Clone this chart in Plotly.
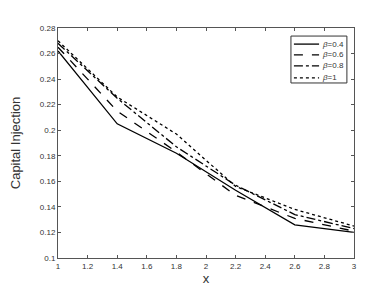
import plotly.graph_objects as go

x_vals = [1, 1.4, 1.8, 2.2, 2.6, 3]
beta_labels = ["<i>β</i>=0.4", "<i>β</i>=0.6", "<i>β</i>=0.8", "<i>β</i>=1"]
beta_04 = [0.262, 0.205, 0.182, 0.153, 0.126, 0.120]
beta_06 = [0.265, 0.215, 0.183, 0.149, 0.131, 0.121]
beta_08 = [0.268, 0.225, 0.187, 0.157, 0.134, 0.123]
beta_1 = [0.270, 0.226, 0.197, 0.156, 0.138, 0.125]

series = [beta_04, beta_06, beta_08, beta_1]
dashes = ["solid", "dash", "dashdot", "dot"]

fig = go.Figure()
for name, ys, d in zip(beta_labels, series, dashes):
    fig.add_trace(go.Scatter(x=x_vals, y=ys, mode="lines", name=name, showlegend=False,
                             line=dict(color="black", width=1.3, dash=d)))

# compact legend (MATLAB style) drawn in paper coordinates
shapes = [dict(type="rect", xref="paper", yref="paper", x0=0.787, x1=0.976, y0=0.761, y1=0.965,
               line=dict(color="#333", width=1), fillcolor="white", layer="above")]
annotations = []
entry_y = [0.930, 0.883, 0.835, 0.783]
for name, d, yy in zip(beta_labels, dashes, entry_y):
    shapes.append(dict(type="line", xref="paper", yref="paper", x0=0.797, x1=0.882, y0=yy, y1=yy,
                       line=dict(color="black", width=1.3, dash=d), layer="above"))
    annotations.append(dict(xref="paper", yref="paper", x=0.885, y=yy, text=name, showarrow=False,
                            xanchor="left", yanchor="middle", font=dict(size=8, color="#333")))

axis_common = dict(showline=True, linecolor="#555", linewidth=1, mirror="allticks",
                   ticks="inside", ticklen=3, tickcolor="#555", showgrid=False,
                   zeroline=False, tickfont=dict(size=8, color="#333"), automargin=False)
fig.update_xaxes(range=[1, 3], tickvals=[1, 1.2, 1.4, 1.6, 1.8, 2, 2.2, 2.4, 2.6, 2.8, 3],
                 ticktext=["1", "1.2", "1.4", "1.6", "1.8", "2", "2.2", "2.4", "2.6", "2.8", "3"],
                 title=dict(text="x", font=dict(size=13, color="#333"), standoff=0), **axis_common)
fig.update_yaxes(range=[0.1, 0.28], tickvals=[0.1, 0.12, 0.14, 0.16, 0.18, 0.2, 0.22, 0.24, 0.26, 0.28],
                 ticktext=["0.1", "0.12", "0.14", "0.16", "0.18", "0.2", "0.22", "0.24", "0.26", "0.28"],
                 title=dict(text="Capital Injection", font=dict(size=13, color="#333"), standoff=17),
                 **axis_common)
fig.update_layout(
    width=382, height=286,
    margin=dict(l=50, r=36, t=20, b=36),
    paper_bgcolor="white", plot_bgcolor="white",
    font=dict(family="Liberation Sans, Arial, sans-serif", color="#333"),
    shapes=shapes, annotations=annotations,
    showlegend=False,
)
fig.write_html("out.html")
